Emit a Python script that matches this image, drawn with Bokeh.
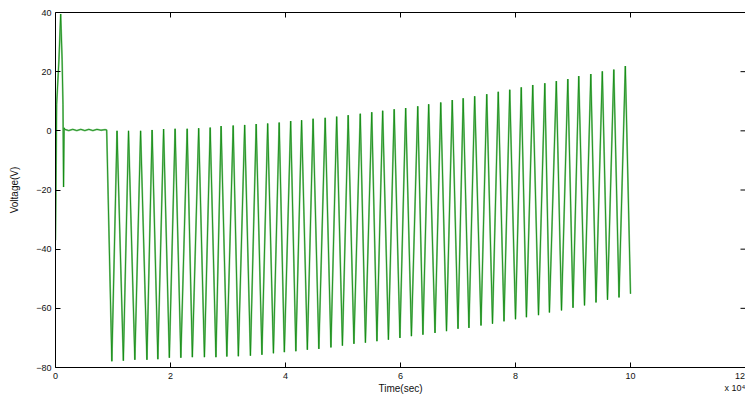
import numpy as np
from bokeh.plotting import figure
from bokeh.models import LinearAxis, Range1d, FixedTicker
from bokeh.embed import file_html
from bokeh.resources import INLINE

# ---- data ----
startup_t = [0.0, 0.02, 0.06, 0.09, 0.115, 0.13, 0.14, 0.15, 0.16, 0.23, 0.30, 0.37, 0.44,
             0.51, 0.58, 0.65, 0.72, 0.79, 0.86, 0.89]
startup_v = [-37.0, 9.0, 24.0, 39.5, 24.0, 9.0, -19.0, 1.0, 0.5, 0.1, 0.5, 0.1, 0.5,
             0.1, 0.5, 0.1, 0.5, 0.2, 0.4, 0.3]

trough_t = [0.98, 1.18, 1.38, 1.59, 1.78, 1.98, 2.18, 2.38, 2.59, 2.79, 2.98, 3.18, 3.39, 3.59, 3.79,
            3.98, 4.18, 4.38, 4.58, 4.79, 4.99, 5.19, 5.39, 5.59, 5.79, 5.99, 6.19, 6.39, 6.60, 6.80, 7.00,
            7.19, 7.40, 7.60, 7.80, 8.00, 8.19, 8.40, 8.59, 8.80, 9.00, 9.20, 9.40, 9.60, 9.80]
trough_v = [-77.9, -77.7, -77.4, -77.4, -77.2, -76.7, -76.7, -76.5, -76.5, -76.5, -76.3, -76.2, -76.0, -75.7, -75.2,
            -74.8, -74.5, -74.0, -73.7, -73.2, -72.6, -72.0, -71.6, -71.1, -70.6, -70.0, -69.4, -68.9, -68.3, -67.7, -66.9,
            -66.6, -65.8, -65.2, -64.4, -63.7, -63.0, -62.3, -61.4, -60.7, -59.8, -59.0, -58.0, -57.1, -56.3]

peak_t = [1.07, 1.27, 1.48, 1.68, 1.88, 2.08, 2.29, 2.49, 2.69, 2.88, 3.09, 3.29, 3.49, 3.69, 3.89,
          4.09, 4.28, 4.48, 4.69, 4.89, 5.09, 5.30, 5.50, 5.69, 5.89, 6.09, 6.30, 6.49, 6.70, 6.90,
          7.09, 7.29, 7.50, 7.70, 7.90, 8.10, 8.30, 8.51, 8.71, 8.91, 9.10, 9.31, 9.51, 9.71, 9.91]
peak_v = [0.0, 0.0, 0.0, 0.3, 0.6, 0.7, 0.7, 0.9, 1.1, 1.6, 1.8, 2.0, 2.3, 2.5, 2.8,
          3.3, 3.6, 4.1, 4.4, 4.8, 5.3, 5.8, 6.3, 6.8, 7.3, 7.7, 8.3, 9.0, 9.6, 10.4,
          11.0, 11.7, 12.4, 13.2, 13.9, 14.7, 15.5, 16.1, 16.8, 17.5, 18.5, 19.2, 20.1, 20.7, 21.9]

end_t = [10.0]
end_v = [-55.1]

x_ticks = [0, 2, 4, 6, 8, 10, 12]
y_ticks = [-80, -60, -40, -20, 0, 20, 40]
x_min, x_max = 0, 12
y_min, y_max = -80, 40
x_multiplier = "x 10\u2074"

# ---- assemble the trace ----
t = list(startup_t)
v = list(startup_v)
for a, b, c, d in zip(trough_t, trough_v, peak_t, peak_v):
    t += [a, c]
    v += [b, d]
t += end_t
v += end_v

FONT = "Liberation Sans"
TXT = "#111111"

p = figure(width=745, height=398, output_backend="svg", toolbar_location=None,
           x_range=Range1d(x_min, x_max), y_range=Range1d(y_min, y_max),
           min_border_left=55, min_border_right=0, min_border_top=12, min_border_bottom=31)
p.background_fill_color = "white"
p.border_fill_color = "white"
p.outline_line_color = None
p.grid.visible = False

p.line(t, v, line_color="#8fcc8f", line_width=1.8)
p.line(t, v, line_color="#0a870a", line_width=0.8)

for ax in (p.xaxis[0], p.yaxis[0]):
    ax.major_tick_in = 5
    ax.major_tick_out = 0
    ax.minor_tick_line_color = None
    ax.axis_line_color = "black"
    ax.major_tick_line_color = "black"
    ax.major_label_text_font = FONT
    ax.major_label_text_font_size = "9px"
    ax.major_label_text_color = TXT
    ax.axis_label_text_font = FONT
    ax.axis_label_text_font_size = "10px"
    ax.axis_label_text_font_style = "normal"
    ax.axis_label_text_color = TXT

p.xaxis[0].ticker = FixedTicker(ticks=x_ticks)
p.yaxis[0].ticker = FixedTicker(ticks=y_ticks)
# the exponent note sits under the last tick label, at the right edge
p.xaxis[0].major_label_overrides = {x_max: "\u00a0" * 4 + f"{x_max}\n{x_multiplier}"}
p.xaxis[0].axis_label = "Time(sec)"
p.xaxis[0].major_label_standoff = 3
p.xaxis[0].axis_label_standoff = -13
p.yaxis[0].axis_label = "Voltage(V)"
p.yaxis[0].major_label_standoff = 4
p.yaxis[0].axis_label_standoff = 13

# top border line (no labels)
top = LinearAxis(ticker=FixedTicker(ticks=[]), major_tick_in=0, major_tick_out=0,
                 minor_tick_line_color=None, axis_line_color="black")
p.add_layout(top, "above")

# inward ticks on the top and right edges
tick_dx = 5 / 57.5
tick_dy = 5 / 2.958
p.segment(x0=x_ticks, y0=[y_max] * len(x_ticks), x1=x_ticks, y1=[y_max - tick_dy] * len(x_ticks),
          line_color="black", line_width=1)
p.segment(x0=[x_max] * len(y_ticks), y0=y_ticks, x1=[x_max - tick_dx] * len(y_ticks), y1=y_ticks,
          line_color="black", line_width=1)

open("out.html", "w").write(file_html(p, INLINE))
